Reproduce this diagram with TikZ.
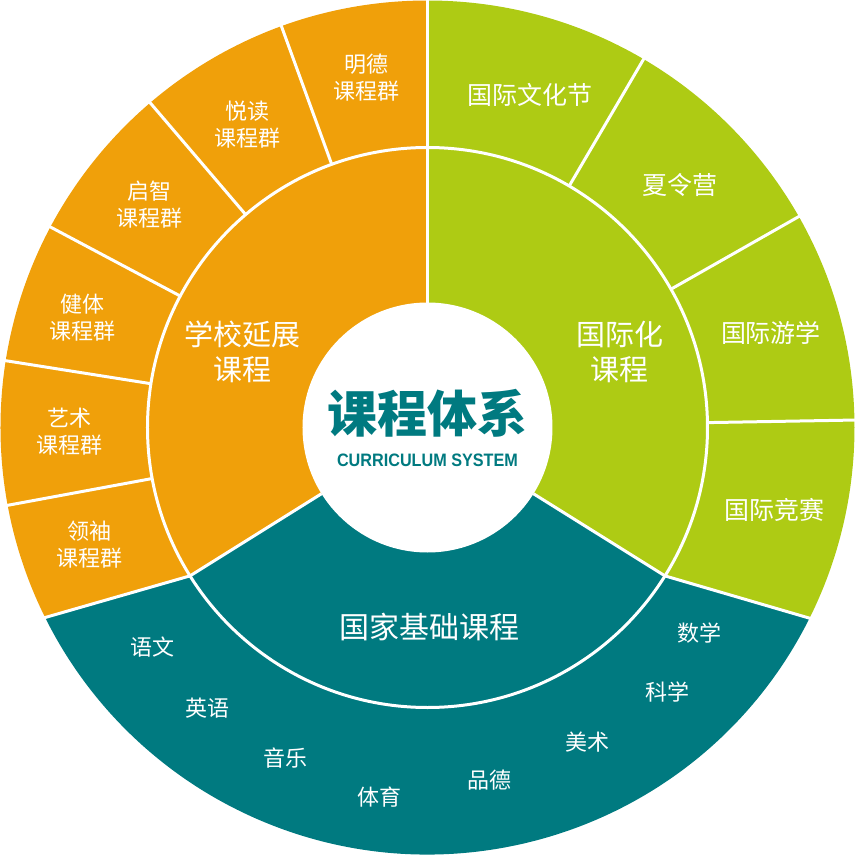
\documentclass[tikz,border=0pt]{standalone}
\usepackage{fontspec}
\setmainfont{Noto Sans CJK SC}
\newfontfamily\subfont{Liberation Sans}
\definecolor{org}{HTML}{F0A00A}
\definecolor{grn}{HTML}{AECB14}
\definecolor{tea}{HTML}{007A80}
\begin{document}
\begin{tikzpicture}[x=1pt,y=1pt,
  lab/.style={text=white,font=\fontsize{22}{27}\selectfont,align=center},
  big/.style={text=white,font=\fontsize{29}{35}\selectfont,align=center},
  sep/.style={white,line width=3pt}]
\useasboundingbox (-427.5,-427.5) rectangle (427.5,427.5);
\coordinate (c) at (0,0);
\fill[org] (c) -- (90:427) arc[start angle=90,end angle=206.4,radius=427pt] -- (212:280) -- cycle;
\fill[grn] (c) -- (90:427) arc[start angle=90,end angle=-26.5,radius=427pt] -- (-32:280) -- cycle;
\fill[tea] (c) -- (-32:280) -- (-26.5:427) arc[start angle=-26.5,end angle=-153.6,radius=427pt] -- (212:280) -- cycle;
\draw[sep] (c) circle[radius=280pt];
\draw[sep] (90:0) -- (90:428);
\draw[sep] (212:125) -- (212:280) -- (206.4:428);
\draw[sep] (-32:125) -- (-32:280) -- (-26.5:428);
\foreach \a in {110,130.5,152,171,190.5,59.6,29.6,1}{\draw[sep] (\a:280) -- (\a:428);}
\fill[white] (c) circle[radius=125pt];
\node[lab] (n1) at (-60.5,349.5) {明德\\课程群};
\node[lab] (n2) at (-179.5,302.5) {悦读\\课程群};
\node[lab] (n3) at (-277.5,222.5) {启智\\课程群};
\node[lab] (n4) at (-344.5,109.5) {健体\\课程群};
\node[lab] (n5) at (-357.5,-4.5) {艺术\\课程群};
\node[lab] (n6) at (-337.5,-117.5) {领袖\\课程群};
\node[big] (s1) at (-184.5,75.5) {学校延展\\课程};
\node[lab,font=\fontsize{25}{29}\selectfont] (g1) at (102.5,332.5) {国际文化节};
\node[lab,font=\fontsize{25}{29}\selectfont] (g2) at (252.5,242.5) {夏令营};
\node[lab,font=\fontsize{25}{29}\selectfont] (g3) at (343.5,94.5) {国际游学};
\node[lab,font=\fontsize{25}{29}\selectfont] (g4) at (347.5,-82.5) {国际竞赛};
\node[big] (s2) at (192.5,75.5) {国际化\\课程};
\node[big,font=\fontsize{30}{34}\selectfont] (s3) at (2.5,-199.5) {国家基础课程};
\node[lab] (t1) at (-274.5,-219.5) {语文};
\node[lab] (t2) at (-219.5,-280.5) {英语};
\node[lab] (t3) at (-141.5,-330.5) {音乐};
\node[lab] (t4) at (-47.5,-369.5) {体育};
\node[lab] (t5) at (62.5,-352.5) {品德};
\node[lab] (t6) at (160.5,-314.5) {美术};
\node[lab] (t7) at (240.5,-264.5) {科学};
\node[lab] (t8) at (272.5,-205.5) {数学};
\node[text=tea,font=\fontsize{50}{54}\selectfont\bfseries] (ti) at (0,14.5) {课程体系};
\node[text=tea,font=\subfont\bfseries\fontsize{18}{20}\selectfont,xscale=0.9] (st) at (0,-32.5) {CURRICULUM SYSTEM};
\end{tikzpicture}
\end{document}
